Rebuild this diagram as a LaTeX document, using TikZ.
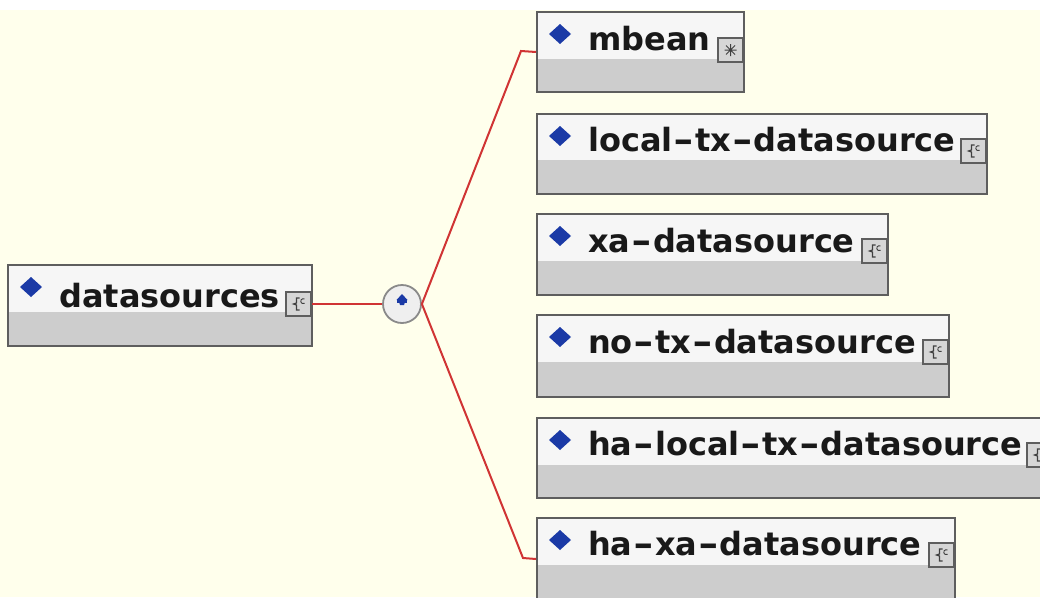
\documentclass[tikz,border=0pt]{standalone}
\usepackage{graphicx}
\usepackage{fontspec}
\newfontfamily\lblfont{DejaVu Sans}
\definecolor{bgcream}{HTML}{FFFFEC}
\definecolor{hdrfill}{HTML}{F6F6F6}
\definecolor{bodyfill}{HTML}{CDCDCD}
\definecolor{frame}{HTML}{5E5E5E}
\definecolor{conn}{HTML}{D03434}
\definecolor{dblue}{HTML}{1B3AA6}
\definecolor{iconfill}{HTML}{D6D6D6}
\definecolor{circfill}{HTML}{EFEFEF}
\definecolor{circline}{HTML}{8A8A8A}
\newcommand\hy{\kern1pt\scalebox{1.55}[1]{-}\kern1pt}
\tikzset{
  boxframe/.style={draw=frame, line width=2pt, rectangle, inner sep=0pt, fill=none},
  elabel/.style={font=\lblfont\bfseries\fontsize{32}{36}\selectfont, anchor=base west, inner sep=0pt, text=black!90},
  iconbox/.style={draw=frame, line width=1.6pt, fill=iconfill, rectangle, minimum width=25pt, minimum height=24pt, inner sep=0pt},
  glyph/.style={draw=black!75, line width=1.2pt},
  connector/.style={draw=conn, line width=2pt},
  choicenode/.style={circle, draw=circline, line width=1.8pt, fill=circfill, minimum size=38pt, inner sep=0pt}
}
% #1 name, #2 x, #3 top y, #4 width, #5 height, #6 label, #7 header height, #8 text baseline offset, #9 icon centre offset
\newcommand\elbox[9]{%
  \fill[hdrfill] (#2,#3) rectangle ++(#4,#7);
  \fill[bodyfill] (#2,#3+#7) rectangle ++(#4,#5-#7);
  \node[boxframe, minimum width=#4pt, minimum height=#5pt, anchor=north west] (#1) at (#2,#3) {};
  \fill[dblue] (#2+13,#3+23) -- (#2+24,#3+13) -- (#2+35,#3+23) -- (#2+24,#3+33) -- cycle;
  \node[elabel] (#1-label) at (#2+52,#3+#8) {#6};
  \node[iconbox] (#1-icon) at (#2+#4-12.5,#3+#9) {};
}
\newcommand\braceglyph[1]{%
  \draw[glyph] ([xshift=1pt,yshift=6pt]#1.center) -- ([xshift=-2pt,yshift=6pt]#1.center) -- ([xshift=-2pt,yshift=1pt]#1.center) -- ([xshift=-5pt,yshift=0pt]#1.center) -- ([xshift=-2pt,yshift=-1pt]#1.center) -- ([xshift=-2pt,yshift=-6pt]#1.center) -- ([xshift=1pt,yshift=-6pt]#1.center);
  \draw[glyph, line width=0.9pt] ([xshift=6pt,yshift=5pt]#1.center) arc (60:300:2.5pt);
}
\begin{document}
\begin{tikzpicture}[x=1pt,y=-1pt]
\useasboundingbox (0,0) rectangle (1040,597);
\clip (0,0) rectangle (1040,597);
\fill[bgcream] (0,0) rectangle (1040,597);
\fill[white] (0,0) rectangle (1040,10);

% root element
\elbox{ds}{7}{264}{304}{81}{datasources}{48}{43}{40}
\braceglyph{ds-icon}

% choice compositor
\node[choicenode] (choice) at (402,304) {};
\fill[dblue] (396.5,300) -- (402,294) -- (407.5,300) -- cycle;
\fill[dblue] (397,299.5) rectangle (407,302.5);
\fill[dblue] (399,302) -- (405,302) -- (404,305) -- (400,305) -- cycle;

% children
\elbox{mbean}{536}{11}{207}{80}{mbean}{48}{39}{39}
\draw[glyph, line width=1pt] ([yshift=-6pt]mbean-icon.center) -- ([yshift=6pt]mbean-icon.center)
  ([xshift=-6pt]mbean-icon.center) -- ([xshift=6pt]mbean-icon.center)
  ([xshift=-4.5pt,yshift=-4.5pt]mbean-icon.center) -- ([xshift=4.5pt,yshift=4.5pt]mbean-icon.center)
  ([xshift=-4.5pt,yshift=4.5pt]mbean-icon.center) -- ([xshift=4.5pt,yshift=-4.5pt]mbean-icon.center);
\elbox{ltx}{536}{113}{450}{80}{local\hy tx\hy datasource}{47}{38}{38}
\braceglyph{ltx-icon}
\elbox{xa}{536}{213}{351}{81}{xa\hy datasource}{48}{39}{38}
\braceglyph{xa-icon}
\elbox{ntx}{536}{314}{412}{82}{no\hy tx\hy datasource}{48}{39}{38}
\braceglyph{ntx-icon}
\elbox{hltx}{536}{417}{516}{80}{ha\hy local\hy tx\hy datasource}{48}{38}{38}
\braceglyph{hltx-icon}
\elbox{hxa}{536}{517}{418}{82}{ha\hy xa\hy datasource}{48}{38}{38}
\braceglyph{hxa-icon}

% connectors
\coordinate (bendtop) at (521,51);
\coordinate (bendbot) at (523,558);
\draw[connector] (ds-icon.east) -- (choice.west);
\draw[connector] (choice.east) -- (bendtop) -- (mbean.west);
\draw[connector] (choice.east) -- (bendbot) -- (hxa.west);
\end{tikzpicture}
\end{document}
